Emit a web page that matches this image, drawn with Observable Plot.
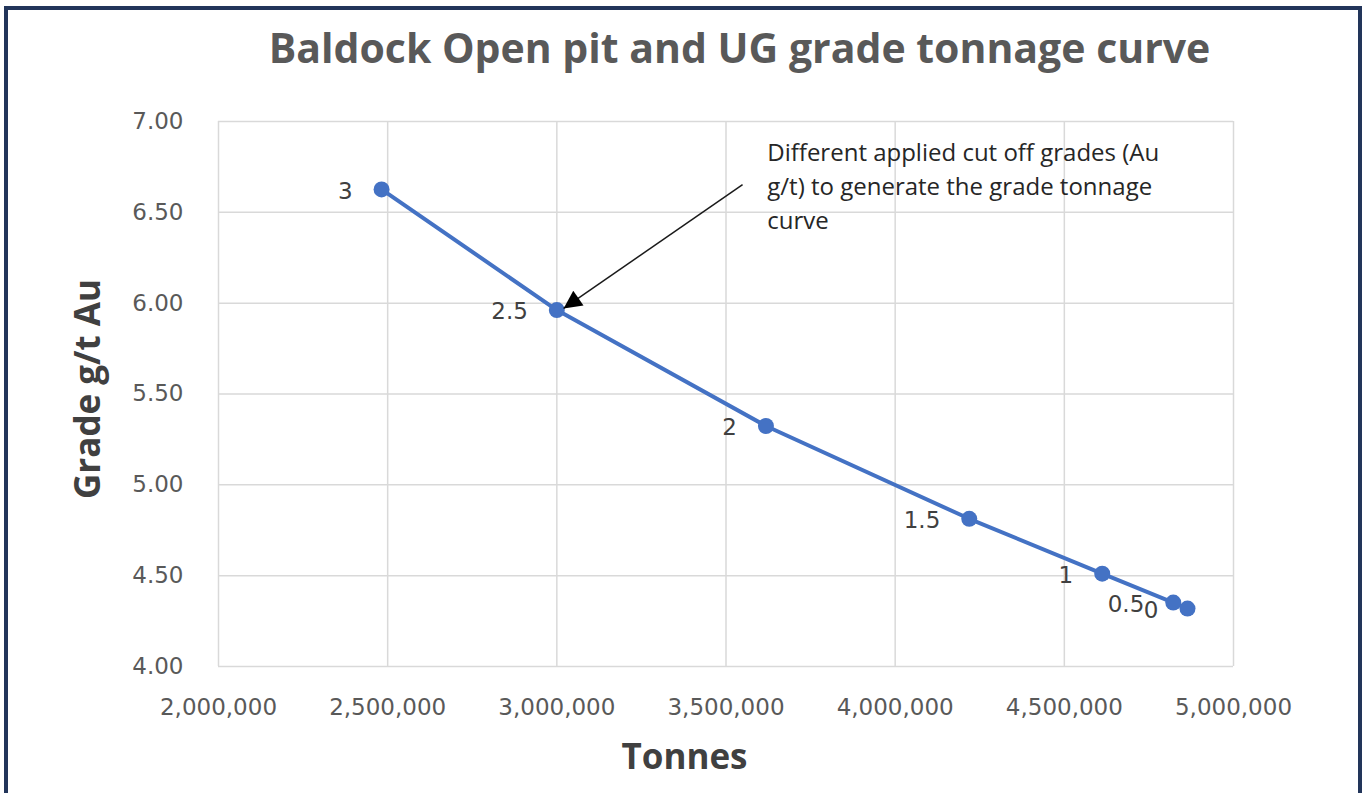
<!DOCTYPE html>
<html>
<head>
<meta charset="utf-8">
<script src="https://cdn.jsdelivr.net/npm/d3@7"></script>
<script src="https://cdn.jsdelivr.net/npm/@observablehq/plot@0.6"></script>
<style>
  html, body { margin: 0; padding: 0; background: #fff; }
  #wrap { position: relative; width: 1366px; height: 793px; overflow: hidden; }
  #border { position: absolute; left: 4px; top: 6px; width: 1358px; height: 820px;
            box-sizing: border-box; border: 4px solid #22355a; pointer-events: none; }
  svg { display: block; }
</style>
</head>
<body>
<div id="wrap"><div id="chart"></div><div id="border"></div></div>
<script>
// ---- data ----
const cutoffs = [3, 2.5, 2, 1.5, 1, 0.5, 0];
const cutoffLabels = ["3", "2.5", "2", "1.5", "1", "0.5", "0"];
const tonnes = [2482000, 3000000, 3618000, 4219000, 4612000, 4822000, 4864000];
const grades = [6.626, 5.962, 5.324, 4.813, 4.511, 4.352, 4.319];

const xTicks = [2000000, 2500000, 3000000, 3500000, 4000000, 4500000, 5000000];
const yTicks = [4.0, 4.5, 5.0, 5.5, 6.0, 6.5, 7.0];

const titleText = "Baldock Open pit and UG grade tonnage curve";
const xLabel = "Tonnes";
const yLabel = "Grade g/t Au";
const noteText = "Different applied cut off grades (Au\ng/t) to generate the grade tonnage\ncurve";
const noteAnchor = [{x: 3622000, y: 6.915}];
const arrowLine = [{x1: 3549000, y1: 6.653, x2: 3020000, y2: 5.971}];

const points = cutoffs.map((c, i) => ({cutoff: c, label: cutoffLabels[i], tonnes: tonnes[i], grade: grades[i]}));

const blue = "#4472C4";
const textGrey = "#595959";
const gridGrey = "#d9d9d9";
const numFont = "'DejaVu Sans', sans-serif";
const font = "'Open Sans', sans-serif";

const plot = Plot.plot({
  width: 1366,
  height: 793,
  marginLeft: 218,
  marginRight: 133,
  marginTop: 121,
  marginBottom: 127,
  style: {fontFamily: numFont, fontSize: "23px", background: "#fff", overflow: "visible"},
  x: {domain: [2000000, 5000000], ticks: xTicks, tickFormat: d3.format(","), label: null},
  y: {domain: [4, 7], ticks: yTicks, tickFormat: d3.format(".2f"), label: null},
  marks: [
    Plot.gridX(xTicks, {stroke: gridGrey, strokeOpacity: 1, strokeWidth: 1.5}),
    Plot.gridY(yTicks, {stroke: gridGrey, strokeOpacity: 1, strokeWidth: 1.5}),
    Plot.axisX({ticks: xTicks, tickFormat: d3.format(","), tickSize: 0, tickPadding: 32, fontSize: 23, fill: textGrey, label: null}),
    Plot.axisY({ticks: yTicks, tickFormat: d3.format(".2f"), tickSize: 0, tickPadding: 35, fontSize: 23, fill: textGrey, label: null}),
    Plot.line(points, {x: "tonnes", y: "grade", stroke: blue, strokeWidth: 4, strokeLinejoin: "round"}),
    Plot.dot(points, {x: "tonnes", y: "grade", r: 8, fill: blue, stroke: "none"}),
    Plot.text(points, {x: "tonnes", y: "grade", text: "label", textAnchor: "end", dx: -29, dy: 2, fontSize: 23, fill: "#404040"}),
    Plot.link(arrowLine, {x1: "x1", y1: "y1", x2: "x2", y2: "y2", stroke: "#1a1a1a", strokeWidth: 1.5, className: "note-arrow"}),
    Plot.text(noteAnchor, {x: "x", y: "y", text: () => noteText, textAnchor: "start", lineAnchor: "top", lineHeight: 1.42, fontSize: 24, fill: "#262626", fontFamily: font}),
    Plot.text([titleText], {frameAnchor: "top", dy: -72, dx: 13.5, text: d => d, fontSize: 41, fontWeight: "bold", fill: textGrey, lineAnchor: "middle", textAnchor: "middle", fontFamily: font}),
    Plot.text([xLabel], {frameAnchor: "bottom", dy: 91, dx: -41.5, text: d => d, fontSize: 35, fontWeight: "bold", fill: "#404040", lineAnchor: "middle", textAnchor: "middle", fontFamily: font}),
    Plot.text([yLabel], {frameAnchor: "left", dx: -130, dy: -5, rotate: -90, text: d => d, fontSize: 35, fontWeight: "bold", fill: "#404040", lineAnchor: "middle", textAnchor: "middle", fontFamily: font})
  ]
});

// filled arrowhead for the annotation line
const svg = d3.select(plot);
const defs = svg.insert("defs", ":first-child");
defs.append("marker")
  .attr("id", "note-head")
  .attr("viewBox", "0 0 10 10")
  .attr("refX", 10).attr("refY", 5)
  .attr("markerUnits", "userSpaceOnUse")
  .attr("markerWidth", 22).attr("markerHeight", 18)
  .attr("orient", "auto")
  .append("path").attr("d", "M0,0L10,5L0,10Z").attr("fill", "#000");
svg.selectAll("g.note-arrow path").attr("marker-end", "url(#note-head)");

document.getElementById("chart").appendChild(plot);
</script>
</body>
</html>
